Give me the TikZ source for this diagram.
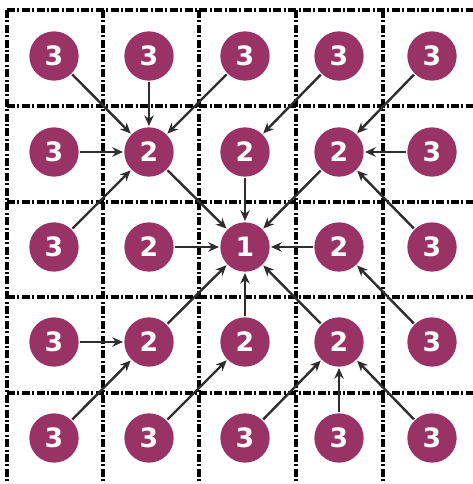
\documentclass[tikz,border=0pt]{standalone}
\usepackage{fontspec}
\setsansfont{DejaVu Sans}
\usetikzlibrary{arrows.meta}
\definecolor{plum}{RGB}{153,51,102}
\definecolor{arrowgray}{RGB}{45,45,45}
\begin{document}
\begin{tikzpicture}[x=0.75pt,y=-0.75pt,>={Stealth[length=8pt,width=7pt]},
  cell/.style={circle,fill=plum,minimum size=37pt,inner sep=0pt,outer sep=1pt,text=white,
    font=\sffamily\bfseries\fontsize{20}{24}\selectfont},
  gridline/.style={line width=2.3pt,dash pattern=on 6pt off 1.8pt on 1.5pt off 1.8pt},
  flow/.style={->,draw=arrowgray,line width=1.8pt}]
  \useasboundingbox (0,0) rectangle (473,484);
  % dash-dot grid
  \foreach \y in {10,106,202,297,393}
    \draw[gridline](7,\y)--(473,\y);
  \foreach \x in {7,103,199,296,383}
    \draw[gridline](\x,10)--(\x,484);
  % cells
  \foreach \r/\py in {1/56,2/152,3/247,4/342,5/438}{
    \foreach \c/\px in {1/54,2/149,3/245,4/339,5/432}{
      \pgfmathtruncatemacro\d{max(abs(\r-3),abs(\c-3))+1}
      \node[cell] (n\r\c) at (\px,\py) {\d};}}
  % flows
  \foreach \a/\b in {11/22,12/22,13/22,21/22,31/22,14/23,15/24,25/24,35/24,
    41/42,51/42,52/43,53/44,54/44,55/44,45/34,
    22/33,23/33,24/33,32/33,34/33,42/33,43/33,44/33}
    \draw[flow](n\a)--(n\b);
\end{tikzpicture}
\end{document}
